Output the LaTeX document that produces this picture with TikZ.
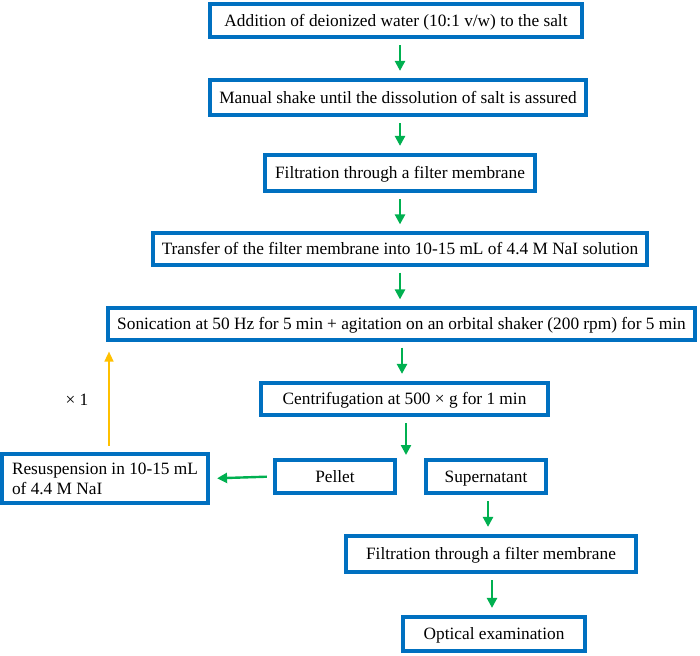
\documentclass[tikz,border=0pt]{standalone}
\usepackage{fontspec}
\setmainfont{Liberation Serif}
\usetikzlibrary{arrows.meta}
\definecolor{boxblue}{HTML}{0070C0}
\definecolor{arrgreen}{HTML}{00B050}
\definecolor{arrorange}{HTML}{FFC000}
\begin{document}
\begin{tikzpicture}[x=1pt,y=-1pt,
  box/.style={draw=boxblue, line width=3.8pt, inner sep=0pt, align=center,
    text height=14pt, text depth=2.6pt,
    font=\fontsize{17.3}{20}\selectfont},
  garrow/.style={draw=arrgreen, line width=2.4pt, -{Triangle[width=10pt,length=10pt]},
    shorten <=6pt, shorten >=7pt},
  oarrow/.style={draw=arrorange, line width=1.6pt, -{Triangle[width=9pt,length=10pt]}}]
\useasboundingbox (0,0) rectangle (700,655);

\node[box, minimum width=372.4pt, minimum height=33.4pt] (b1) at (396,20.5)
  {Addition of deionized water (10:1 v/w) to the salt};
\node[box, minimum width=376.4pt, minimum height=35.4pt] (b2) at (398,97.5)
  {Manual shake until the dissolution of salt is assured};
\node[box, minimum width=270.4pt, minimum height=36.4pt] (b3) at (400,173)
  {Filtration through a filter membrane};
\node[box, minimum width=494.4pt, minimum height=31.4pt] (b4) at (400,249)
  {Transfer of the filter membrane into 10-15 mL of 4.4 M NaI solution};
\node[box, minimum width=587.4pt, minimum height=31.4pt] (b5) at (401.5,324)
  {Sonication at 50 Hz for 5 min + agitation on an orbital shaker (200 rpm) for 5 min};
\node[box, minimum width=287.4pt, minimum height=32.4pt] (b6) at (404.5,399)
  {Centrifugation at 500 × g for 1 min};
\node[box, minimum width=120.4pt, minimum height=33.4pt] (pel) at (335,476.5) {Pellet};
\node[box, minimum width=120.4pt, minimum height=33.4pt] (sup) at (486,476.5) {Supernatant};
\node[box, minimum width=290.4pt, minimum height=36.4pt] (f2) at (491,554)
  {Filtration through a filter membrane};
\node[box, minimum width=182.4pt, minimum height=34.4pt] (opt) at (494,634)
  {Optical examination};
\node[box, align=left, text height=, text depth=, minimum width=206.4pt, minimum height=49.4pt] (res) at (105,478.5)
  {Resuspension in 10-15 mL\\of 4.4 M NaI};
\node[font=\fontsize{17.3}{20}\selectfont] (x1) at (77,400) {× 1};
\coordinate (gap) at (406,455);

\draw[garrow] (b1.south -| 400,0) -- (b2.north -| 400,0);
\draw[garrow] (b2.south -| 400,0) -- (b3.north -| 400,0);
\draw[garrow] (b3.south -| 400,0) -- (b4.north -| 400,0);
\draw[garrow] (b4.south -| 400,0) -- (b5.north -| 400,0);
\draw[garrow] (b5.south -| 402,0) -- (b6.north -| 402,0);
\draw[garrow, shorten >=0pt] (b6.south -| gap) -- (gap);
\draw[garrow] (sup.south -| 488,0) -- (f2.north -| 488,0);
\draw[garrow] (f2.south -| 492,0) -- (opt.north -| 492,0);
\draw[garrow] (pel.west) -- (res.east);
\draw[oarrow, shorten <=6pt, shorten >=10pt] (res.north -| 109,0) -- (b5.south -| 109,0);
\end{tikzpicture}
\end{document}
